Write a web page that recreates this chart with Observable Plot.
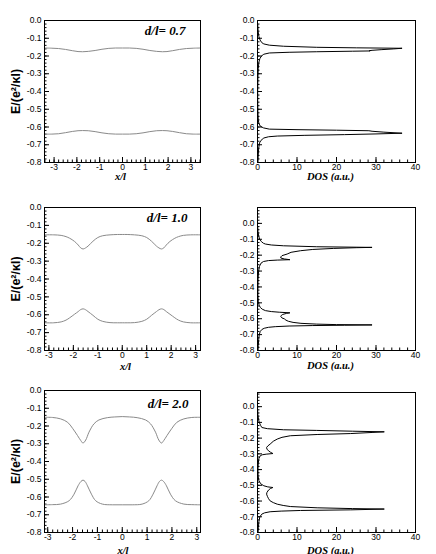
<!DOCTYPE html>
<html>
<head>
<meta charset="utf-8">
<script src="https://cdn.jsdelivr.net/npm/d3@7"></script>
<script src="https://cdn.jsdelivr.net/npm/@observablehq/plot@0.6"></script>
<style>
  html, body { margin: 0; padding: 0; background: white; }
  #chart { position: relative; width: 436px; height: 554px; background: white; overflow: hidden; }
  #chart svg { position: absolute; background: transparent; overflow: visible; max-width: none; }
</style>
</head>
<body>
<div id="chart"></div>
<script>
// ---------- tick labels ----------
const bandTicksX = [-3, -2, -1, 0, 1, 2, 3];
const dosTicksX = [0, 10, 20, 30, 40];
const eTicks = [0, -0.1, -0.2, -0.3, -0.4, -0.5, -0.6, -0.7, -0.8];
const eTickLabels = ["0.0", "-0.1", "-0.2", "-0.3", "-0.4", "-0.5", "-0.6", "-0.7", "-0.8"];
const panelLabels = ["d/l= 0.7", "d/l= 1.0", "d/l= 2.0"];

// ---------- d/l = 0.7 ----------
const band07X = [-3.42,-3.1,-2.8,-2.5,-2.2,-1.95,-1.75,-1.5,-1.2,-0.9,-0.6,-0.3,0,0.3,0.6,0.9,1.2,1.5,1.75,1.95,2.2,2.5,2.8,3.1,3.42];
const band07Upper = [-0.155,-0.156,-0.158,-0.163,-0.170,-0.175,-0.176,-0.174,-0.169,-0.162,-0.157,-0.155,-0.155,-0.155,-0.157,-0.162,-0.169,-0.174,-0.176,-0.175,-0.170,-0.163,-0.158,-0.156,-0.155];
const band07Lower = [-0.640,-0.640,-0.638,-0.632,-0.625,-0.621,-0.620,-0.621,-0.626,-0.633,-0.638,-0.640,-0.640,-0.640,-0.638,-0.633,-0.626,-0.621,-0.620,-0.621,-0.625,-0.632,-0.638,-0.640,-0.640];
const dos07E = [-0.02,-0.06,-0.09,-0.11,-0.125,-0.132,-0.139,-0.145,-0.151,-0.154,-0.1565,-0.160,-0.164,-0.168,-0.170,-0.1715,-0.173,-0.176,-0.179,-0.183,-0.19,-0.2,-0.215,-0.235,-0.27,-0.32,-0.4,-0.45,-0.52,-0.56,-0.58,-0.595,-0.605,-0.612,-0.615,-0.618,-0.621,-0.624,-0.629,-0.635,-0.639,-0.643,-0.647,-0.651,-0.655,-0.662,-0.675,-0.69,-0.72,-0.76,-0.8];
const dos07V = [0.05,0.15,0.35,0.65,1.1,1.6,3,6.6,15,25,36.6,34.5,31.5,29,28.3,28.5,24,15,8,3,1.6,1.0,0.6,0.35,0.2,0.1,0.05,0.05,0.1,0.2,0.35,0.7,1.5,3,10,20,28.2,29,32,36.6,30,22,12,5,2.8,1.6,0.9,0.5,0.3,0.18,0.12];

// ---------- d/l = 1.0 ----------
const band10X = [-3.18,-2.8,-2.5,-2.3,-2.15,-1.95,-1.8,-1.7,-1.6,-1.5,-1.4,-1.2,-1.0,-0.8,-0.5,-0.2,0,0.2,0.5,0.8,1.0,1.2,1.4,1.5,1.6,1.7,1.8,1.95,2.15,2.3,2.5,2.8,3.2];
const band10Upper = [-0.153,-0.153,-0.156,-0.163,-0.172,-0.19,-0.21,-0.226,-0.232,-0.226,-0.216,-0.189,-0.168,-0.158,-0.153,-0.151,-0.151,-0.151,-0.153,-0.158,-0.168,-0.189,-0.216,-0.226,-0.232,-0.226,-0.21,-0.19,-0.172,-0.163,-0.156,-0.153,-0.153];
const band10Lower = [-0.645,-0.645,-0.640,-0.630,-0.617,-0.597,-0.582,-0.571,-0.567,-0.572,-0.582,-0.603,-0.625,-0.637,-0.644,-0.645,-0.645,-0.645,-0.644,-0.637,-0.625,-0.603,-0.582,-0.572,-0.567,-0.571,-0.582,-0.597,-0.617,-0.630,-0.640,-0.645,-0.645];
const dos10E = [-0.02,-0.05,-0.08,-0.10,-0.115,-0.125,-0.130,-0.136,-0.141,-0.147,-0.151,-0.153,-0.1575,-0.164,-0.172,-0.182,-0.193,-0.203,-0.211,-0.218,-0.224,-0.2285,-0.231,-0.234,-0.24,-0.25,-0.27,-0.3,-0.35,-0.4,-0.45,-0.49,-0.515,-0.53,-0.54,-0.549,-0.555,-0.559,-0.563,-0.566,-0.573,-0.58,-0.587,-0.595,-0.601,-0.609,-0.616,-0.623,-0.629,-0.634,-0.637,-0.639,-0.641,-0.643,-0.646,-0.65,-0.654,-0.66,-0.668,-0.68,-0.7,-0.73,-0.77,-0.8];
const dos10V = [0.05,0.12,0.3,0.55,1.0,1.5,2,3.5,6.6,15,29,25,19.3,14,10.9,8.5,7.5,6.2,5.9,5.9,6.8,8.2,5,2.8,1.5,0.9,0.5,0.28,0.15,0.1,0.1,0.2,0.4,0.75,1.2,2,3.5,5.5,8.2,7.4,6.4,6.0,5.9,6.2,6.8,7.2,7.8,9,11,15,20,29,22,14,8,4.5,2.8,1.7,1.1,0.7,0.45,0.3,0.2,0.15];

// ---------- d/l = 2.0 ----------
const band20UpperX = [-3.13,-2.8,-2.48,-2.2,-2.0,-1.8,-1.67,-1.58,-1.47,-1.34,-1.14,-0.94,-0.6,-0.3,0,0.3,0.6,0.94,1.14,1.34,1.47,1.58,1.67,1.8,2.0,2.2,2.48,2.8,3.15];
const band20Upper = [-0.151,-0.152,-0.160,-0.179,-0.213,-0.254,-0.282,-0.296,-0.279,-0.235,-0.188,-0.166,-0.153,-0.149,-0.147,-0.149,-0.153,-0.166,-0.188,-0.235,-0.279,-0.296,-0.282,-0.254,-0.213,-0.179,-0.160,-0.152,-0.151];
const band20LowerX = [-3.13,-2.8,-2.48,-2.14,-1.94,-1.78,-1.66,-1.58,-1.5,-1.4,-1.24,-1.07,-0.8,-0.4,0,0.4,0.8,1.07,1.24,1.4,1.5,1.58,1.66,1.78,1.94,2.14,2.48,2.8,3.15];
const band20Lower = [-0.644,-0.643,-0.640,-0.621,-0.584,-0.537,-0.512,-0.505,-0.512,-0.537,-0.584,-0.621,-0.640,-0.644,-0.644,-0.644,-0.640,-0.621,-0.584,-0.537,-0.512,-0.505,-0.512,-0.537,-0.584,-0.621,-0.640,-0.643,-0.644];
const dos20E = [-0.02,-0.05,-0.08,-0.10,-0.12,-0.1325,-0.14,-0.147,-0.151,-0.156,-0.160,-0.164,-0.171,-0.177,-0.185,-0.195,-0.206,-0.22,-0.238,-0.25,-0.26,-0.27,-0.281,-0.29,-0.298,-0.302,-0.306,-0.312,-0.33,-0.36,-0.4,-0.44,-0.47,-0.49,-0.503,-0.51,-0.514,-0.52,-0.53,-0.545,-0.556,-0.57,-0.585,-0.599,-0.61,-0.62,-0.628,-0.635,-0.643,-0.648,-0.651,-0.656,-0.660,-0.664,-0.668,-0.675,-0.683,-0.7,-0.73,-0.77,-0.8];
const dos20V = [0.04,0.1,0.25,0.45,0.8,1.1,2.5,6.6,15,24,32.1,29,23.6,15.1,8.3,6.2,5,4,3.2,2.6,2.3,2.4,2.8,3.3,3.9,2.2,1.2,0.7,0.35,0.2,0.12,0.15,0.35,0.8,1.6,2.6,3.9,3.3,2.8,2.4,2.3,2.5,2.8,3.2,4.0,5,6.5,8.3,15.1,24,32.1,23.6,10.9,6,3.2,1.8,1.1,0.6,0.35,0.22,0.15];

// ---------- helpers ----------
const zip = (xs, ys) => xs.map((x, i) => ({x, y: ys[i]}));
const tickFont = '"Liberation Sans", Arial, Helvetica, sans-serif';
const serif = '"Liberation Serif", "Times New Roman", serif';
const sans = '"Liberation Sans", Arial, sans-serif';
const container = document.getElementById("chart");

function panel(c) {
  const mL = 44, mR = 8, mT = 8, mB = 26;
  const inDom = (d, v) => v >= Math.min(...d) - 1e-9 && v <= Math.max(...d) + 1e-9;
  const xMinor = c.xMinor.filter(v => inDom(c.xd, v));
  const yMinor = d3.range(-40, 6).map(v => v / 50).filter(v => inDom(c.yd, v));
  const marks = [
    Plot.axisX({ticks: xMinor, tickSize: -2.5, tickFormat: () => "", label: null}),
    Plot.axisX({ticks: c.xMajor, tickSize: -5, tickFormat: () => "", label: null}),
    Plot.axisX({ticks: c.xMajor, tickSize: 0, tickPadding: 1.5, tickFormat: c.xFmt, label: null}),
    Plot.axisY({ticks: yMinor, tickSize: -2.5, tickFormat: () => "", label: null}),
    Plot.axisY({ticks: eTicks, tickSize: -5, tickFormat: () => "", label: null}),
    Plot.axisY({ticks: eTicks, tickSize: 0, tickPadding: 3, tickFormat: d => eTickLabels[eTicks.indexOf(d)], label: null}),
    ...c.marks,
    Plot.frame({stroke: "black", strokeWidth: 1}),
    Plot.text([c.xTitle], {text: d => d, frameAnchor: "bottom", lineAnchor: "bottom", textAnchor: "middle",
      dx: c.xTitleDx, dy: c.xTitleDy, fontFamily: serif, fontStyle: "italic", fontWeight: "bold", fontSize: 10.5, fill: "black"})
  ];
  if (c.yTitle) marks.push(Plot.text([c.yTitle], {text: d => d, frameAnchor: "left", lineAnchor: "bottom", textAnchor: "middle",
      rotate: -90, dx: -25, fontFamily: sans, fontWeight: "bold", fontSize: 12.5, fill: "black"}));
  if (c.tag) marks.push(Plot.text([c.tag], {text: d => d, frameAnchor: "top-right", lineAnchor: "bottom", textAnchor: "end",
      dx: c.tagDx, dy: c.tagDy, fontFamily: serif, fontStyle: "italic", fontWeight: "bold", fontSize: 13, fill: "black"}));
  const svg = Plot.plot({
    width: c.fw + mL + mR, height: c.fh + mT + mB,
    marginLeft: mL, marginRight: mR, marginTop: mT, marginBottom: mB,
    style: {fontFamily: tickFont, fontSize: "8.5px", color: "black", background: "transparent", overflow: "visible"},
    x: {domain: c.xd}, y: {domain: c.yd},
    marks
  });
  svg.style.left = (c.fx - mL) + "px";
  svg.style.top = (c.fy - mT) + "px";
  container.appendChild(svg);
}

const bandMinor = d3.range(-34, 35, 2).map(v => v / 10);
const dosMinor = d3.range(0, 41, 2);
const bandLine = (xs, ys) => Plot.line(zip(xs, ys), {x: "x", y: "y", stroke: "#8a8a8a", strokeWidth: 1, curve: "catmull-rom"});
const dosLine = (es, vs) => Plot.line(zip(vs, es), {x: "x", y: "y", stroke: "#000", strokeWidth: 1});

const rows = [
  {fy: 20, fh: 142, fyR: 20, fhR: 142, xd: [-3.42, 3.42], ydR: [-0.8, 0],
   bands: [bandLine(band07X, band07Upper), bandLine(band07X, band07Lower)], dos: dosLine(dos07E, dos07V),
   tagDx: -15, tagDy: 14, xtDx: -2, xtDy: 17, dtDy: 17},
  {fy: 207, fh: 143, fyR: 207, fhR: 143, xd: [-3.18, 3.2], ydR: [-0.8, 0.1],
   bands: [bandLine(band10X, band10Upper), bandLine(band10X, band10Lower)], dos: dosLine(dos10E, dos10V),
   tagDx: -13, tagDy: 14, xtDx: 3, xtDy: 19, dtDy: 18},
  {fy: 390, fh: 142, fyR: 392, fhR: 140, xd: [-3.13, 3.15], ydR: [-0.8, 0.09],
   bands: [bandLine(band20UpperX, band20Upper), bandLine(band20LowerX, band20Lower)], dos: dosLine(dos20E, dos20V),
   tagDx: -12, tagDy: 17.5, xtDx: 0.5, xtDy: 21, dtDy: 21}
];

rows.forEach((r, i) => {
  panel({fx: 44, fy: r.fy, fw: 156, fh: r.fh, xd: r.xd, yd: [-0.8, 0],
    xMajor: bandTicksX, xMinor: bandMinor, xFmt: d => String(d),
    marks: r.bands, xTitle: "x/l", xTitleDx: r.xtDx, xTitleDy: r.xtDy,
    yTitle: "E/(e²/κl)", tag: panelLabels[i], tagDx: r.tagDx, tagDy: r.tagDy});
  panel({fx: 257, fy: r.fyR, fw: 158, fh: r.fhR, xd: [0, 40], yd: r.ydR,
    xMajor: dosTicksX, xMinor: dosMinor, xFmt: d => String(d),
    marks: [r.dos], xTitle: "DOS (a.u.)", xTitleDx: -6, xTitleDy: r.dtDy});
});
</script>
</body>
</html>
